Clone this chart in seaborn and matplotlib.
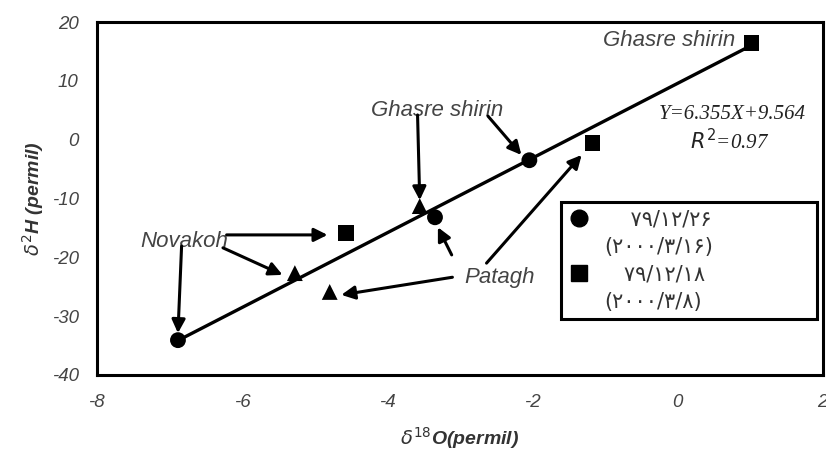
import pandas as pd
import seaborn as sns
import matplotlib.pyplot as plt
from matplotlib.lines import Line2D

# stations, in the same order inside each sampling group
stations = ['Ghasre shirin', 'Patagh', 'Novakoh']

# 79/12/26 (circles)
d18o_circle = [-2.04, -3.34, -6.88]
d2h_circle = [-3.5, -13.2, -34.1]
# 79/12/18 (squares)
d18o_square = [1.02, -1.17, -4.57]
d2h_square = [16.4, -0.6, -15.9]
# third sampling (triangles)
d18o_triangle = [-3.55, -4.79, -5.27]
d2h_triangle = [-11.3, -25.9, -22.7]

slope = 6.355
intercept = 9.564
r2 = 0.97

x_ticks = [-8, -6, -4, -2, 0, 2]
y_ticks = [-40, -30, -20, -10, 0, 10, 20]

# legend: solar hijri date and (gregorian date)
dates_sh = ['۷۹/۱۲/۲۶', '۷۹/۱۲/۱۸']
dates_ad = ['(۲۰۰۰/۳/۱۶)', '(۲۰۰۰/۳/۸)']

df = pd.DataFrame({
    'station': stations * 3,
    'sampling': ['circle'] * 3 + ['square'] * 3 + ['triangle'] * 3,
    'd18O': d18o_circle + d18o_square + d18o_triangle,
    'd2H': d2h_circle + d2h_square + d2h_triangle,
})

# regression line over the data range
x_min, x_max = df['d18O'].min(), df['d18O'].max()
fit = pd.DataFrame({'d18O': [x_min, x_max]})
fit['d2H'] = slope * fit['d18O'] + intercept

sns.set_style('white')
plt.rcParams['font.family'] = ['Liberation Sans', 'DejaVu Sans']
plt.rcParams['axes.unicode_minus'] = False

f, ax = plt.subplots(figsize=(8.26, 4.5), dpi=100)
f.subplots_adjust(left=0.117, right=0.996, top=0.951, bottom=0.167)

sns.lineplot(fit, x='d18O', y='d2H', color='black', lw=2.4, ax=ax, zorder=2)
sns.scatterplot(df, x='d18O', y='d2H', style='sampling',
                markers={'circle': 'o', 'square': 's', 'triangle': '^'},
                color='black', s=130, edgecolor='black', linewidth=0,
                legend=False, ax=ax, zorder=3)

ax.set_xlim(-8, 2)
ax.set_ylim(-40, 20)
ax.set_xticks(x_ticks)
ax.set_yticks(y_ticks)
ax.tick_params(direction='out', length=4, width=2, color='black',
               labelsize=13.5, labelcolor='#444444')
ax.tick_params(axis='x', pad=10)
ax.tick_params(axis='y', pad=9)
for lab in ax.get_xticklabels() + ax.get_yticklabels():
    lab.set_style('italic')
for sp in ax.spines.values():
    sp.set_visible(True)
    sp.set_color('black')
    sp.set_linewidth(2.2)

ax.set_xlabel(r'$\delta^{18}$O(permil)', fontsize=14, fontweight='bold',
              style='italic', color='#333333', labelpad=10)
ax.set_ylabel(r'$\delta^{2}$H (permil)', fontsize=14, fontweight='bold',
              style='italic', color='#333333', labelpad=4)

# station labels and arrows
lab_kw = dict(fontsize=16, style='italic', color='#444444', va='center', zorder=1)
ax.text(-6.79, -17.4, 'Novakoh', ha='center', **lab_kw)
ax.text(-3.31, 5.0, 'Ghasre shirin', ha='center', **lab_kw)
ax.text(-1.03, 16.9, 'Ghasre shirin', ha='left', **lab_kw)
ax.text(-2.45, -23.4, 'Patagh', ha='center', **lab_kw)

arrow_kw = dict(arrowstyle='-|>', color='black', lw=2.2, mutation_scale=20,
                shrinkA=0, shrinkB=0)
arrows = [
    ((-6.21, -16.2), (-4.82, -16.2)),
    ((-6.26, -18.4), (-5.44, -23.0)),
    ((-6.83, -18.1), (-6.88, -32.9)),
    ((-3.58, 4.2), (-3.55, -10.3)),
    ((-2.61, 4.0), (-2.15, -2.6)),
    ((-2.63, -21.0), (-1.32, -2.6)),
    ((-3.11, -19.6), (-3.30, -14.9)),
    ((-3.10, -23.4), (-4.63, -26.4)),
]
for tail, tip in arrows:
    ax.annotate('', xy=tip, xytext=tail, arrowprops=arrow_kw, zorder=4)

ax.text(0.75, 4.2, f'Y={slope}X+{intercept}', fontsize=15, style='italic',
        family='Liberation Serif', ha='center', va='center', color='#222222')
ax.text(0.72, -0.4, f'$R^2$={r2}', fontsize=15, style='italic',
        family='Liberation Serif', ha='center', va='center', color='#222222')

# legend: marker on the first row, gregorian date on the row below
blank = Line2D([], [], linestyle='none')
handles = [Line2D([], [], marker='o', color='black', linestyle='none', markersize=12), blank,
           Line2D([], [], marker='s', color='black', linestyle='none', markersize=12), blank]
labels = ['    ' + dates_sh[0], dates_ad[0], '   ' + dates_sh[1], dates_ad[1]]
leg = ax.legend(handles, labels, loc='upper left',
                bbox_to_anchor=(0.64, 0.156, 0.352, 0.334), mode='expand',
                borderaxespad=0, fancybox=False, framealpha=1,
                prop={'family': 'DejaVu Sans', 'size': 15},
                handletextpad=0.7, labelspacing=0.36, borderpad=0.35,
                handlelength=1.0)
leg.get_frame().set_edgecolor('black')
leg.get_frame().set_linewidth(2.2)
for t in leg.get_texts():
    t.set_color('#333333')

f.savefig('out.png', dpi=100)
